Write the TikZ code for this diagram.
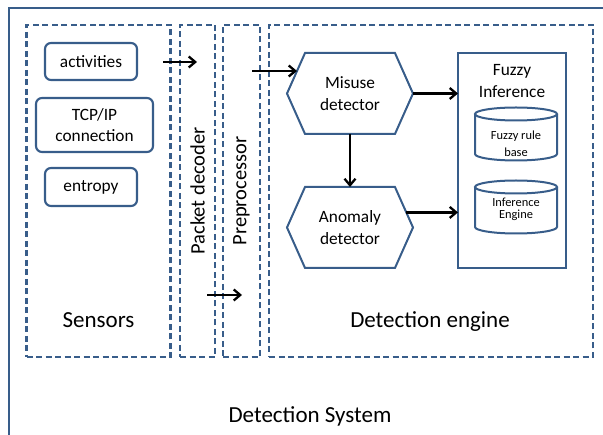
\documentclass[tikz,border=0pt]{standalone}
\usepackage{fontspec}
\setmainfont{Carlito}
\usepackage{tikz}
\usetikzlibrary{positioning,calc,arrows.meta,shapes,shapes.symbols}

\definecolor{frameblue}{RGB}{56,93,138}

\begin{document}
\begin{tikzpicture}[x=1pt,y=-1pt,node distance=2.5cm]
    \tikzstyle{every node}=[inner sep=0pt,outer sep=0pt,text=black]
    \tikzstyle{part}=[rectangle,draw=frameblue,line width=2.2pt,
                      dash pattern=on 6pt off 3.5pt]
    \tikzstyle{item}=[rectangle,rounded corners=6pt,draw=frameblue,
                      line width=2.1pt,align=center,
                      font=\fontsize{17.3}{21}\selectfont]
    \tikzstyle{detector}=[signal,signal to=east and west,
                          signal pointer angle=132,draw=frameblue,
                          line width=2pt,minimum width=126pt,
                          minimum height=81pt,align=center,
                          font=\fontsize{17.3}{21.5}\selectfont]
    \tikzstyle{store}=[rectangle,minimum width=82pt,minimum height=53pt]
    \tikzstyle{storetext}=[align=center,font=\fontsize{12.4}{17}\selectfont]
    \tikzstyle{big}=[font=\fontsize{23}{28}\selectfont]
    \tikzstyle{side}=[font=\fontsize{20.5}{24}\selectfont,rotate=90]
    \tikzset{edgestyle/.style={-{Straight Barb[length=6.5pt,width=11pt]},
                               line width=2.3pt,black},
             drum/.style={draw=frameblue,line width=2pt}}

    \useasboundingbox (0,0) rectangle (603,435);
    \draw[frameblue,line width=2.2pt] (9,445) -- (9,8) -- (615,8);

    % dashed parts
    \node[part,minimum width=144pt,minimum height=332pt] (s) at (98.5,191) {};
    \node[part,minimum width=35pt,minimum height=332pt]  (p) at (197.5,191) {};
    \node[part,minimum width=37pt,minimum height=332pt]  (q) at (241.5,191) {};
    \node[part,minimum width=324pt,minimum height=332pt] (e) at (431,191) {};

    \node[item,minimum width=92pt,minimum height=37pt]  (a) at (91,61.5) {activities};
    \node[item,minimum width=117pt,minimum height=54pt] (b) at (94.5,125) {TCP/IP\\connection};
    \node[item,minimum width=92pt,minimum height=38pt]  (c) at (91,187) {entropy};

    \node[side] (pt) at (p.center) {Packet decoder};
    \node[side] (qt) at (q.center) {Preprocessor};

    \node[detector] (m) at (350,93.5)           {Misuse\\detector};
    \node[detector] (n) [below = 53pt of m]     {Anomaly\\detector};

    \node[rectangle,draw=frameblue,line width=2.2pt,
          minimum width=108pt,minimum height=215pt] (f) at (512,160.5) {};
    \node[align=center,font=\fontsize{17.3}{22}\selectfont] (ft) at (512,81) {Fuzzy\\Inference};
    \node[store] (r) at (516,134) {};
    \node[store] (g) [below = 20pt of r] {};
    \foreach \c in {r,g}{
        \draw[drum] ($(\c.north)+(0,6.5)$) ellipse [x radius=41,y radius=6.5];
        \draw[drum] ($(\c.north west)+(0,6.5)$) -- ($(\c.south west)+(0,-6.5)$)
            arc [start angle=180,end angle=0,x radius=41,y radius=6.5]
            -- ($(\c.north east)+(0,6.5)$);
    }
    \node[storetext] (rt) at (516,144) {Fuzzy rule\\base};
    \node[storetext,font=\fontsize{12.4}{12.5}\selectfont] (gt) at (516,209.5) {Inference\\Engine};

    \node[big,anchor=base] (st) at (98.5,328)  {Sensors};
    \node[big,anchor=base] (et) at (430,328)   {Detection engine};
    \node[big,anchor=base] (dt) at (310,423)   {Detection System};

    \coordinate (a1) at (163,62);
    \coordinate (a2) at (197,62);
    \coordinate (m1) at (252,71);
    \coordinate (p1) at (207,295);
    \coordinate (p2) at (242,295);

    \path (a1) edge [edgestyle] (a2)
          (m1) edge [edgestyle] (m1 -| m.157)
          (p1) edge [edgestyle] (p2)
          (m.east) edge [edgestyle] (m.east -| f.west)
          (m.south) edge [edgestyle] (n.north)
          (n.15) edge [edgestyle] (n.15 -| f.west);
\end{tikzpicture}
\end{document}
